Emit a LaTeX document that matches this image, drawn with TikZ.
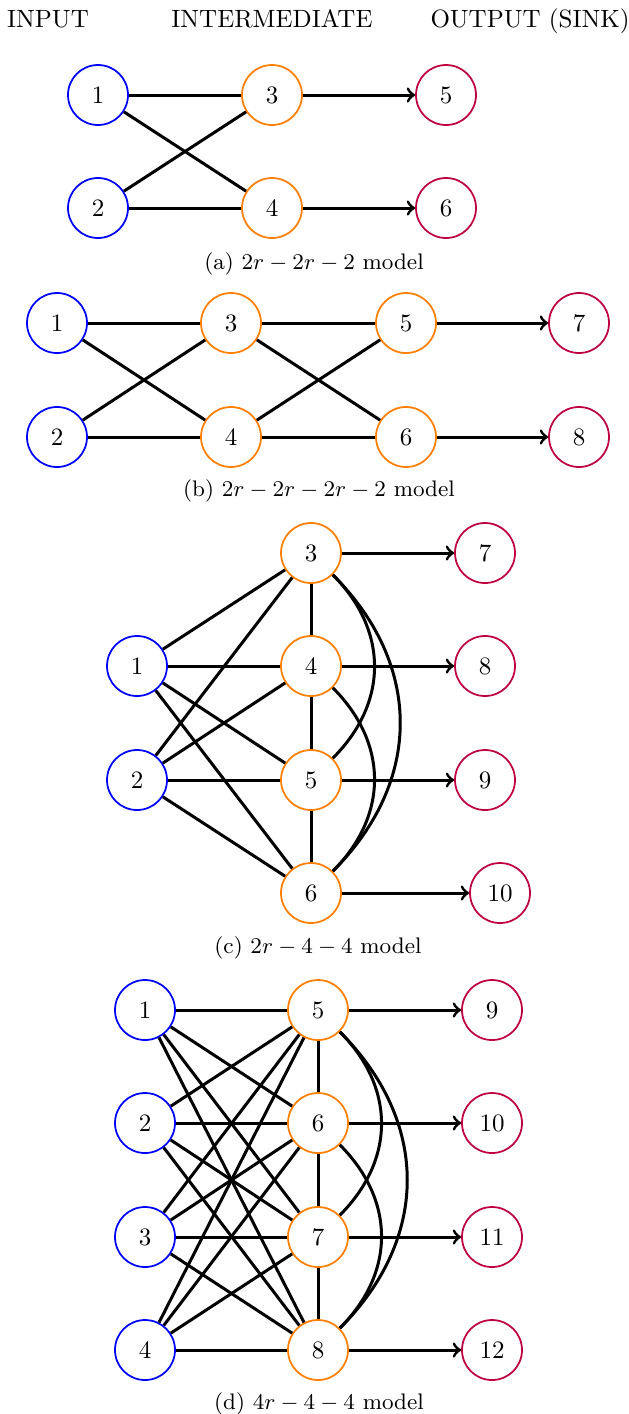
\documentclass[tikz,border=0pt]{standalone}
\usepackage{amsmath}
\usepackage{amssymb}
\usetikzlibrary{arrows}

\begin{document}
\begin{tikzpicture}[x=0.4pt, y=-0.4pt,
		innode/.style={circle, draw=blue, line width=0.7pt, minimum size=24pt, inner sep=0pt},
		midnode/.style={circle, draw=orange, line width=0.7pt, minimum size=24pt, inner sep=0pt},
		outnode/.style={circle, draw=purple, line width=0.7pt, minimum size=24pt, inner sep=0pt},
		link/.style={very thick},
		arcedge/.style={very thick, bend left=45, looseness=1.1},
		caption/.style={anchor=base, font=\small}]
		%\draw [help lines] (0,0) grid [step=50] (628,1414);
		\useasboundingbox (0,0) rectangle (628,1414);

		\node [anchor=base] (hin) at (48,27) {INPUT};
		\node [anchor=base] (hmid) at (272,27) {INTERMEDIATE};
		\node [anchor=base] (hout) at (530,27) {OUTPUT (SINK)};

		% (a)
		\node [innode] (a1) at (98,95) {1};
		\node [innode] (a2) at (98,208) {2};
		\node [midnode] (a3) at (272,95) {3};
		\node [midnode] (a4) at (272,208) {4};
		\node [outnode] (a5) at (446,95) {5};
		\node [outnode] (a6) at (446,208) {6};
		\draw [link] (a1) -- (a3);
		\draw [link] (a1) -- (a4);
		\draw [link] (a2) -- (a3);
		\draw [link] (a2) -- (a4);
		\draw [link, ->] (a3) -- (a5);
		\draw [link, ->] (a4) -- (a6);
		\node [caption] (capa) at (314,269) {(a) $2r-2r-2$ model};

		% (b)
		\node [innode] (b1) at (57,323) {1};
		\node [innode] (b2) at (57,437) {2};
		\node [midnode] (b3) at (231,323) {3};
		\node [midnode] (b4) at (231,437) {4};
		\node [midnode] (b5) at (406,323) {5};
		\node [midnode] (b6) at (406,437) {6};
		\node [outnode] (b7) at (579,323) {7};
		\node [outnode] (b8) at (579,437) {8};
		\draw [link] (b1) -- (b3);
		\draw [link] (b1) -- (b4);
		\draw [link] (b2) -- (b3);
		\draw [link] (b2) -- (b4);
		\draw [link] (b3) -- (b5);
		\draw [link] (b3) -- (b6);
		\draw [link] (b4) -- (b5);
		\draw [link] (b4) -- (b6);
		\draw [link, ->] (b5) -- (b7);
		\draw [link, ->] (b6) -- (b8);
		\node [caption] (capb) at (319,496) {(b) $2r-2r-2r-2$ model};

		% (c)
		\node [innode] (c1) at (137,666) {1};
		\node [innode] (c2) at (137,780) {2};
		\node [midnode] (c3) at (311,553) {3};
		\node [midnode] (c4) at (311,666) {4};
		\node [midnode] (c5) at (311,780) {5};
		\node [midnode] (c6) at (311,893) {6};
		\node [outnode] (c7) at (485,553) {7};
		\node [outnode] (c8) at (485,666) {8};
		\node [outnode] (c9) at (485,780) {9};
		\node [outnode] (c10) at (500,893) {10};
		\draw [link] (c1) -- (c3);
		\draw [link] (c1) -- (c4);
		\draw [link] (c1) -- (c5);
		\draw [link] (c1) -- (c6);
		\draw [link] (c2) -- (c3);
		\draw [link] (c2) -- (c4);
		\draw [link] (c2) -- (c5);
		\draw [link] (c2) -- (c6);
		\draw [link] (c3) -- (c4);
		\draw [link] (c4) -- (c5);
		\draw [link] (c5) -- (c6);
		\draw [arcedge] (c3) to (c5);
		\draw [arcedge] (c3) to (c6);
		\draw [arcedge] (c4) to (c6);
		\draw [link, ->] (c3) -- (c7);
		\draw [link, ->] (c4) -- (c8);
		\draw [link, ->] (c5) -- (c9);
		\draw [link, ->] (c6) -- (c10);
		\node [caption] (capc) at (318,953) {(c) $2r-4-4$ model};

		% (d)
		\node [innode] (d1) at (145,1010) {1};
		\node [innode] (d2) at (145,1123) {2};
		\node [innode] (d3) at (145,1237) {3};
		\node [innode] (d4) at (145,1350) {4};
		\node [midnode] (d5) at (318,1010) {5};
		\node [midnode] (d6) at (318,1123) {6};
		\node [midnode] (d7) at (318,1237) {7};
		\node [midnode] (d8) at (318,1350) {8};
		\node [outnode] (d9) at (492,1010) {9};
		\node [outnode] (d10) at (492,1123) {10};
		\node [outnode] (d11) at (492,1237) {11};
		\node [outnode] (d12) at (492,1350) {12};
		\draw [link] (d1) -- (d5);
		\draw [link] (d1) -- (d6);
		\draw [link] (d1) -- (d7);
		\draw [link] (d1) -- (d8);
		\draw [link] (d2) -- (d5);
		\draw [link] (d2) -- (d6);
		\draw [link] (d2) -- (d7);
		\draw [link] (d2) -- (d8);
		\draw [link] (d3) -- (d5);
		\draw [link] (d3) -- (d6);
		\draw [link] (d3) -- (d7);
		\draw [link] (d3) -- (d8);
		\draw [link] (d4) -- (d5);
		\draw [link] (d4) -- (d6);
		\draw [link] (d4) -- (d7);
		\draw [link] (d4) -- (d8);
		\draw [link] (d5) -- (d6);
		\draw [link] (d6) -- (d7);
		\draw [link] (d7) -- (d8);
		\draw [arcedge] (d5) to (d7);
		\draw [arcedge] (d5) to (d8);
		\draw [arcedge] (d6) to (d8);
		\draw [link, ->] (d5) -- (d9);
		\draw [link, ->] (d6) -- (d10);
		\draw [link, ->] (d7) -- (d11);
		\draw [link, ->] (d8) -- (d12);
		\node [caption] (capd) at (319,1409) {(d) $4r-4-4$ model};
	\end{tikzpicture}
\end{document}
